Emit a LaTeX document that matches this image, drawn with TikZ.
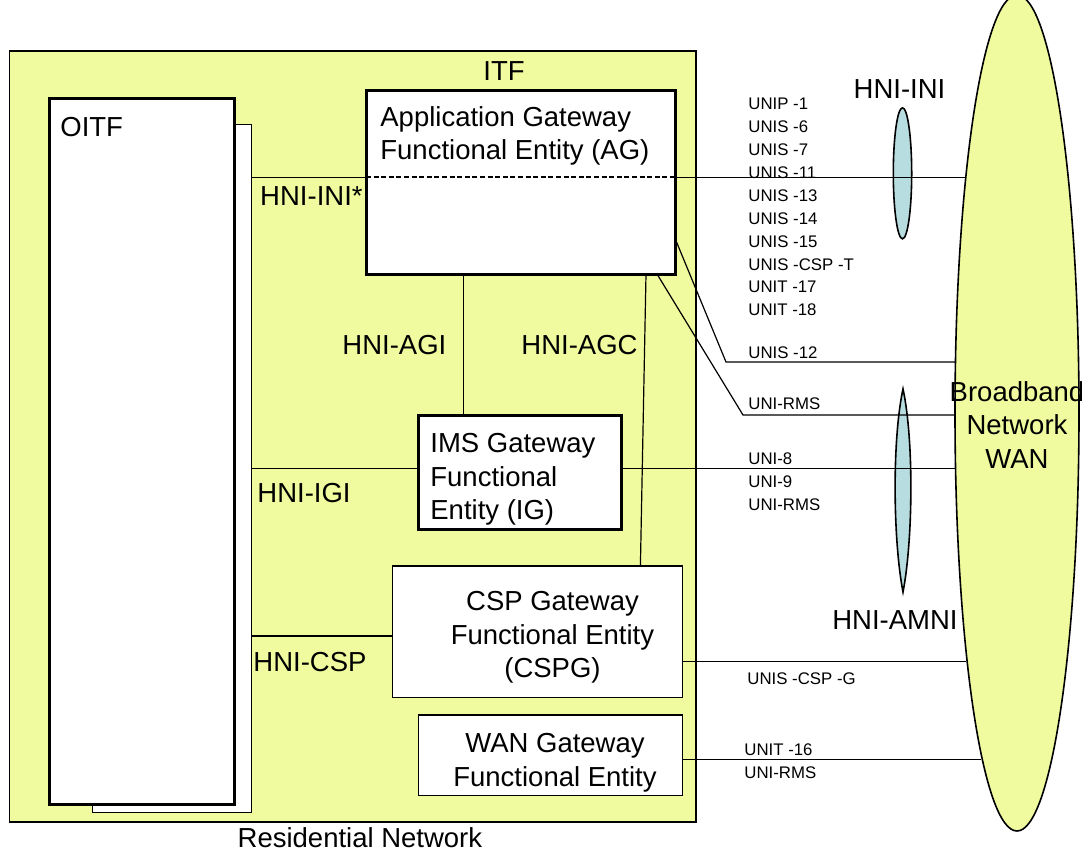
\documentclass[tikz,border=0pt]{standalone}
\usepackage{fontspec}
\setmainfont{Liberation Sans}
\usetikzlibrary{shapes, positioning, calc}

\definecolor{resyellow}{RGB}{239,251,158}
\definecolor{niblue}{RGB}{184,221,224}

\begin{document}
\begin{tikzpicture}[x=0.5pt, y=-0.5pt,
    fe/.style={draw, fill=white, inner sep=0pt, outer sep=0pt},
    thickfe/.style={fe, line width=1.5pt},
    thinfe/.style={fe, line width=0.7pt},
    lbl/.style={inner sep=0pt, font=\fontsize{13.75}{16.75}\selectfont},
    uni/.style={inner sep=0pt, text height=6pt, text depth=0pt, font=\fontsize{8.4}{10}\selectfont},
    link/.style={line width=0.6pt}]
  \newcommand\pxlen{0.5pt} % one pixel of the drawing
  \newcommand\unigap{5.05pt}

  \path[use as bounding box, clip] (0,0) rectangle (1082,851);
  \fill[white] (0,0) rectangle (1082,851);

  \node[draw, fill=resyellow, ellipse, line width=0.8pt, inner sep=0pt, outer sep=0pt, minimum width=124*\pxlen, minimum height=836*\pxlen] (wan) at (1017,413) {};
  \node[draw, fill=resyellow, line width=0.7pt, inner sep=0pt, outer sep=0pt, minimum width=686.5*\pxlen, minimum height=771*\pxlen] (resnet) at (352.75,436.5) {};

  \node[thinfe, minimum width=159*\pxlen, minimum height=688*\pxlen] (oitfsh) at (172.2,468.3) {};
  \node[thickfe, minimum width=185*\pxlen, minimum height=706*\pxlen] (oitf) at (142,451) {};
  \node[thickfe, minimum width=309*\pxlen, minimum height=184*\pxlen] (ag) at (520.5,182) {};
  \node[thickfe, minimum width=203.4*\pxlen, minimum height=114.3*\pxlen] (ig) at (520,472.8) {};
  \node[thinfe, minimum width=290.4*\pxlen, minimum height=131.3*\pxlen] (cspg) at (537.4,631.7) {};
  \node[thinfe, minimum width=264.3*\pxlen, minimum height=80.3*\pxlen] (wgw) at (550.5,755.2) {};

  \node[draw, fill=niblue, ellipse, line width=0.8pt, inner sep=0pt, minimum width=18.4*\pxlen, minimum height=131*\pxlen] (ini) at (902.5,173.3) {};
  \coordinate (amnitip) at (903,592);
  \draw[fill=niblue, line width=0.8pt] (903,389) .. controls (914,440) and (913,540) .. (amnitip) .. controls (893,540) and (892,440) .. (903,389) -- cycle;

  \coordinate (agw) at ([yshift=2.35pt]ag.west);
  \coordinate (age) at ([yshift=2.35pt]ag.east);
  \coordinate (igw) at ([yshift=2.25pt]ig.west);
  \coordinate (ige) at ([yshift=2.25pt]ig.east);
  \coordinate (cspgw) at ([yshift=-2.15pt]cspg.west);
  \coordinate (cspge) at ([yshift=-15pt]cspg.east);
  \coordinate (wgwe) at ([yshift=-2.05pt]wgw.east);
  \coordinate (agi) at ([xshift=-28.35pt]ig.north);

  \draw[line width=1pt, dash pattern=on 2.5pt off 1.3pt] (agw) -- (age);
  \draw[link] (agw -| oitfsh.east) -- (agw);
  \draw[link] (igw -| oitfsh.east) -- (igw);
  \draw[link] (cspgw -| oitfsh.east) -- (cspgw);
  \draw[link] (agi) -- (agi |- ag.south);
  \draw[link] ([xshift=62.75pt]ag.south) -- ([xshift=51.5pt]cspg.north);
  \draw[link] (age) -- (age -| wan.102.2);
  \draw[link] ([yshift=-28.15pt]ag.east) -- ++(25.5pt,-61.85pt) coordinate (k12) -- (k12 -| wan.140.3);
  \draw[link] ([xshift=68.25pt]ag.south) -- ++(43pt,-70.5pt) coordinate (krms) -- (krms -| wan.181.8);
  \draw[link] (ige) -- (ige -| wan.221.3);
  \draw[link] (cspge) -- (cspge -| wan.258.7);
  \draw[link] (wgwe) -- (wgwe -| wan.264.3);

  \node[lbl, below right=9.5pt and 5.25pt of oitf.north west] (oitflbl) {OITF};
  \node[lbl, above=4.65pt of ag, xshift=-8.25pt] (itflbl) {ITF};
  \node[lbl, align=left, below right=8pt and 7pt of ag.north west] (aglbl) {Application Gateway\\Functional Entity (AG)};
  \node[lbl, align=left, below right=8.65pt and 5.85pt of ig.north west] (iglbl) {IMS Gateway\\Functional\\Entity (IG)};
  \node[lbl, align=center, below=12.5pt of cspg.north, xshift=7.55pt] (cspglbl) {CSP Gateway\\Functional Entity\\(CSPG)};
  \node[lbl, align=center, below=9pt of wgw.north, xshift=2.25pt] (wgwlbl) {WAN Gateway\\Functional Entity};
  \node[lbl, align=center, anchor=north] (wanlbl) at (1017,381) {Broadband\\Network\\WAN};
  \node[lbl, below=2.6pt of resnet, xshift=3.6pt] (reslbl) {Residential Network};

  \node[lbl, below left=4.6pt and 1.5pt of agw] (inistar) {HNI-INI*};
  \node[lbl, anchor=north west] (agilbl) at (342,335) {HNI-AGI};
  \node[lbl, anchor=north west] (agclbl) at (521,335) {HNI-AGC};
  \node[lbl, anchor=north west] (igilbl) at (257,483) {HNI-IGI};
  \node[lbl, anchor=north west] (csplbl) at (253,652) {HNI-CSP};
  \node[lbl, above=4.2pt of ini, xshift=-1.5pt] (inilbl) {HNI-INI};
  \node[lbl, below=9pt of amnitip, xshift=-4pt] (amnilbl) {HNI-AMNI};

  \node[uni, anchor=north west] (u1) at (748,97.3) {UNIP -1};
  \foreach \name [count=\prev from 1, evaluate=\prev as \cur using int(\prev+1)] in {UNIS -6, UNIS -7, UNIS -11, UNIS -13, UNIS -14, UNIS -15, UNIS -CSP -T, UNIT -17, UNIT -18}{
    \node[uni, below=\unigap of u\prev.south west, anchor=north west] (u\cur) {\name};
  }
  \node[uni, anchor=north west] (u12) at (748,346) {UNIS -12};
  \node[uni, anchor=north west] (rms1) at (748,397.3) {UNI-RMS};
  \node[uni, anchor=north west] (u8) at (748,452) {UNI-8};
  \node[uni, below=\unigap of u8.south west, anchor=north west] (u9) {UNI-9};
  \node[uni, below=\unigap of u9.south west, anchor=north west] (rms2) {UNI-RMS};
  \node[uni, anchor=north west] (ucspg) at (747,672) {UNIS -CSP -G};
  \node[uni, anchor=north west] (u16) at (744,743) {UNIT -16};
  \node[uni, below=\unigap of u16.south west, anchor=north west] (rms3) {UNI-RMS};
\end{tikzpicture}
\end{document}
